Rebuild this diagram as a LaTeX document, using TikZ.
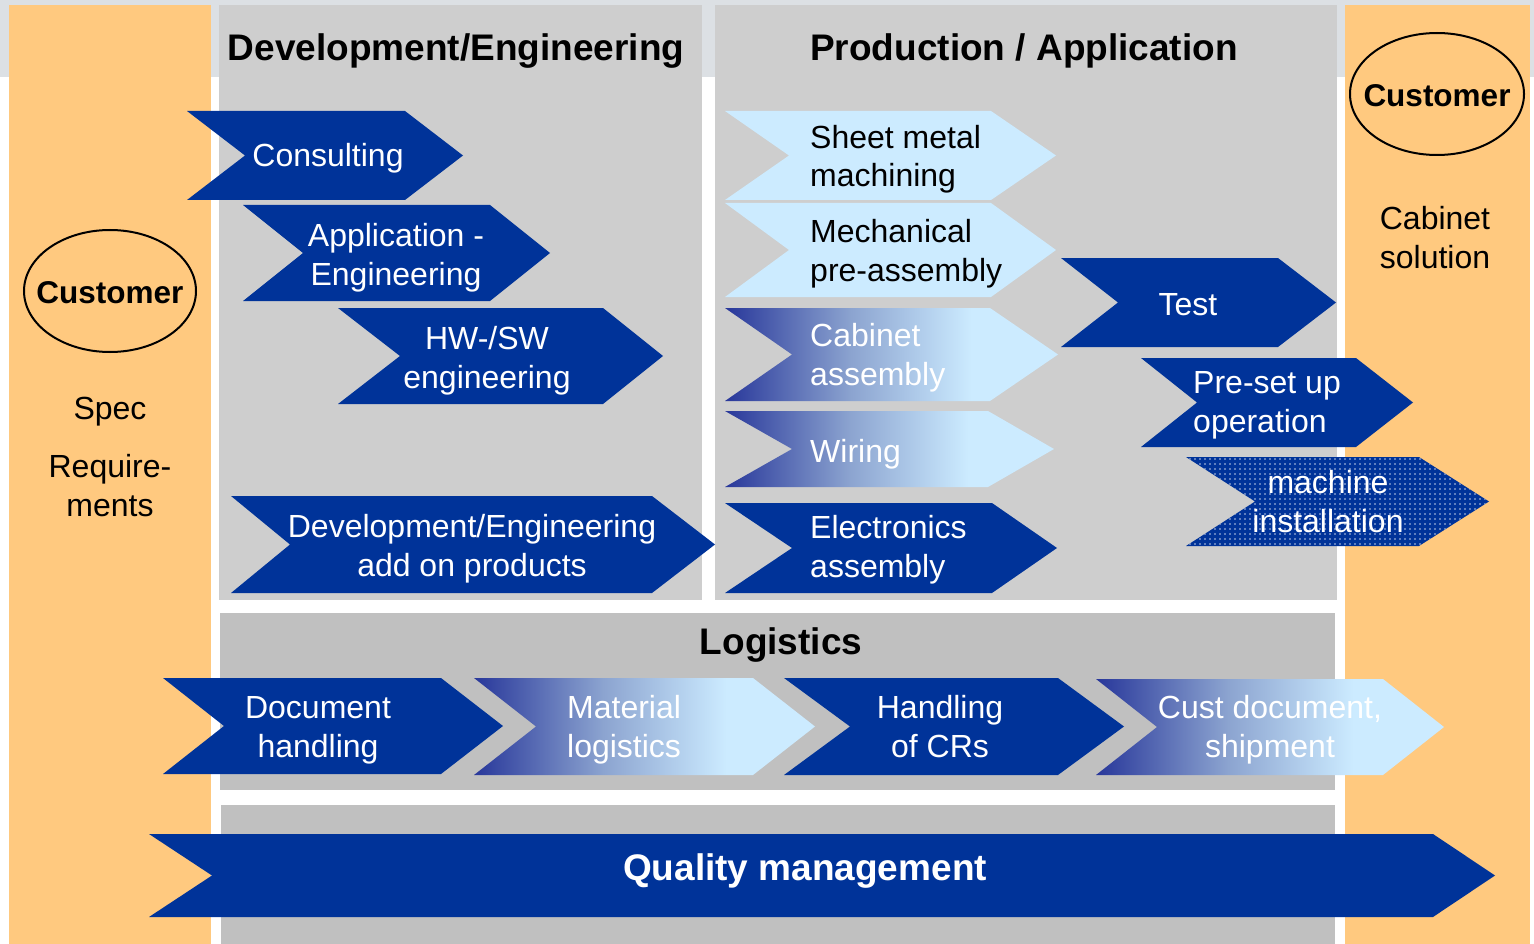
\documentclass[tikz,border=0pt]{standalone}
\usepackage{fontspec}
\setmainfont{Liberation Sans}
\usetikzlibrary{patterns.meta}
\definecolor{dblue}{HTML}{003399}
\definecolor{lblue}{HTML}{CCEBFF}
\definecolor{gdark}{HTML}{28379A}
\definecolor{gmid}{HTML}{8CA4D0}
\definecolor{orng}{HTML}{FFC97F}
\definecolor{pgray}{HTML}{CECECE}
\definecolor{lgray}{HTML}{C0C0C0}
\definecolor{band}{HTML}{DCE0E4}
\pgfdeclarehorizontalshading{chevgrad}{100bp}{color(0bp)=(gdark); color(25bp)=(gdark); color(44bp)=(gmid); color(62bp)=(lblue); color(100bp)=(lblue)}
% style, xleft, xnotch, xright, xtip, ytop, ybottom
\newcommand\chevshape[7]{\path[#1] (#2,#6) -- (#4,#6) -- (#5,{(#6+#7)/2}) -- (#4,#7) -- (#2,#7) -- (#3,{(#6+#7)/2}) -- cycle;}
\tikzset{
  dchev/.style={fill=dblue},
  lchev/.style={fill=lblue},
  gchev/.style={shading=chevgrad},
  dotchev/.style={pattern={Dots[distance=5pt,radius=0.9pt]},pattern color=white!75!dblue},
  wtxt/.style={text=white,font=\fontsize{32}{38.5}\selectfont,inner sep=0pt,anchor=base,align=center},
  btxt/.style={text=black,font=\fontsize{32}{38.5}\selectfont,inner sep=0pt,anchor=base,align=center},
  ltxt/.style={anchor=base west,align=left},
  ttl/.style={text=black,font=\fontsize{37}{44}\selectfont\bfseries,inner sep=0pt,anchor=base},
  cust/.style={text=black,font=\fontsize{31.5}{38}\selectfont\bfseries,inner sep=0pt,anchor=base},
  oval/.style={draw=black,line width=2pt}
}
\begin{document}
\begin{tikzpicture}[x=1pt,y=-1pt]
\useasboundingbox (0,0) rectangle (1534,944);
% background
\fill[white] (0,0) rectangle (1534,944);
\fill[band] (0,0) rectangle (1534,77);
\fill[orng] (9,5) rectangle (211,944);
\fill[orng] (1345,5) rectangle (1530,944);
\fill[pgray] (219,5) rectangle (702,600);
\fill[pgray] (715,5) rectangle (1337,600);
\fill[lgray] (220,613) rectangle (1335,790);
\fill[lgray] (221,805) rectangle (1335,944);
% titles
\node[ttl] (tdev) at (456,61) {Development/Engineering};
\node[ttl] (tprod) at (1024,61) {Production / Application};
\node[ttl] (tlog) at (781,654) {Logistics};
% customers
\draw[oval] (110,291) ellipse [x radius=86pt,y radius=61pt];
\node[cust] (custL) at (110,303) {Customer};
\draw[oval] (1437,94) ellipse [x radius=87pt,y radius=61pt];
\node[cust] (custR) at (1437,107) {Customer};
\node[btxt] (spec) at (110,419) {Spec};
\node[btxt] (req) at (110,516) {Require-\\ments};
\node[btxt] (cabsol) at (1435,268) {Cabinet\\solution};
% development chevrons
\chevshape{dchev}{187}{245}{405}{463}{111}{200}
\node[wtxt] (consult) at (328,167) {Consulting};
\chevshape{dchev}{243}{303}{490}{550}{205}{301}
\node[wtxt] (appeng) at (396,285) {Application -\\Engineering};
\chevshape{dchev}{338}{400}{603}{663}{308}{404}
\node[wtxt] (hwsw) at (487,388) {HW-/SW\\engineering};
\chevshape{dchev}{231}{290}{652}{715}{496}{593}
\node[wtxt] (devadd) at (472,576) {Development/Engineering\\add on products};
% production chevrons
\chevshape{lchev}{725}{789}{991}{1056}{111}{200}
\node[btxt,ltxt] (sheet) at (810,187) {Sheet metal\\machining};
\chevshape{lchev}{725}{789}{991}{1056}{203}{297}
\node[btxt,ltxt] (mech) at (810,281) {Mechanical\\pre-assembly};
\chevshape{gchev}{725}{792}{990}{1058}{308}{401}
\node[wtxt,ltxt] (cab) at (810,385) {Cabinet\\assembly};
\chevshape{gchev}{725}{792}{988}{1054}{411}{487}
\node[wtxt,ltxt] (wiring) at (810,462) {Wiring};
\chevshape{dchev}{725}{792}{992}{1057}{503}{593}
\node[wtxt,ltxt] (elec) at (810,577) {Electronics\\assembly};
\chevshape{dchev}{1061}{1118}{1278}{1336}{258}{347}
\node[wtxt] (test) at (1188,315) {Test};
\chevshape{dchev}{1141}{1197}{1356}{1413}{358}{447}
\node[wtxt,ltxt] (preset) at (1193,432) {Pre-set up\\operation};
\chevshape{dchev}{1186}{1255}{1419}{1489}{457}{546}
\chevshape{dotchev}{1186}{1255}{1419}{1489}{457}{546}
\node[wtxt] (machine) at (1328,532) {machine\\installation};
% logistics chevrons
\chevshape{dchev}{163}{224}{441}{503}{678}{774}
\node[wtxt] (doc) at (318,757) {Document\\handling};
\chevshape{gchev}{474}{536}{753}{815}{678}{775}
\node[wtxt,ltxt] (mat) at (567,757) {Material\\logistics};
\chevshape{dchev}{784}{850}{1058}{1124}{678}{775}
\node[wtxt] (crs) at (940,757) {Handling\\of CRs};
\chevshape{gchev}{1096}{1157}{1383}{1444}{679}{775}
\node[wtxt] (custdoc) at (1270,757) {Cust document,\\shipment};
% quality
\chevshape{dchev}{149}{212}{1433}{1495}{834}{917}
\node[ttl,text=white] (qm) at (805,880) {Quality management};
\end{tikzpicture}
\end{document}
